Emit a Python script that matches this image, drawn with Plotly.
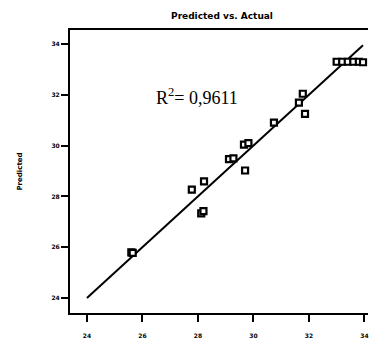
import plotly.graph_objects as go

actual = [25.6, 25.65, 27.78, 28.22, 28.12, 28.2, 29.12, 29.28, 29.66, 29.82, 29.7, 30.74, 31.64, 31.78, 31.86,
          33.0, 33.2, 33.4, 33.6, 33.8, 33.95]
predicted = [25.8, 25.78, 28.27, 28.59, 27.33, 27.42, 29.47, 29.5, 30.04, 30.1, 29.02, 30.9, 31.69, 32.04, 31.25,
             33.3, 33.3, 33.3, 33.3, 33.3, 33.28]
fit_x = [24, 33.95]
fit_y = [24, 33.95]
tick_vals = [24, 26, 28, 30, 32, 34]
tick_text = ["24", "26", "28", "30", "32", "34"]

L, R, T, B = 70, 3, 30, 25
W, H = 371, 338
pw, ph = W - L - R, H - T - B

fig = go.Figure()
fig.add_trace(go.Scatter(x=fit_x, y=fit_y, mode="lines",
                         line=dict(color="black", width=2), showlegend=False))
fig.add_trace(go.Scatter(x=actual, y=predicted, mode="markers",
                         marker=dict(symbol="square", size=6, color="white",
                                     line=dict(color="black", width=2.2)),
                         showlegend=False))

fig.add_annotation(x=(197 - L) / pw, y=(H - B - 83) / ph, xref="paper", yref="paper",
                   text="R<sup>2</sup>= 0,9611", showarrow=False,
                   font=dict(family="Liberation Serif", size=18, color="black"))

fig.update_layout(
    width=W, height=H,
    margin=dict(l=L, r=R, t=T, b=B),
    paper_bgcolor="white", plot_bgcolor="white",
    title=dict(text="Predicted vs. Actual", x=222 / W, xanchor="center", y=1 - 16 / H, yanchor="middle",
               font=dict(family="DejaVu Sans", size=9, color="black", weight="bold")),
    xaxis=dict(range=[23.39, 34.13], tickvals=tick_vals, ticktext=tick_text, ticks="outside", ticklen=7,
               tickwidth=2, tickcolor="black", showgrid=False, zeroline=False, showline=True,
               linecolor="black", linewidth=2, mirror=True, ticklabelstandoff=9, automargin=False,
               tickfont=dict(family="DejaVu Sans", size=6, color="black", weight="bold")),
    yaxis=dict(range=[23.41, 34.55], tickvals=tick_vals, ticktext=tick_text, ticks="outside", ticklen=7,
               tickwidth=2, tickcolor="black", showgrid=False, zeroline=False, showline=True,
               linecolor="black", linewidth=2, automargin=False,
               title=dict(text="Predicted", standoff=28,
                          font=dict(family="DejaVu Sans", size=7, color="black", weight="bold")),
               tickfont=dict(family="DejaVu Sans", size=6, color="black", weight="bold")),
)

fig.write_html("out.html")
